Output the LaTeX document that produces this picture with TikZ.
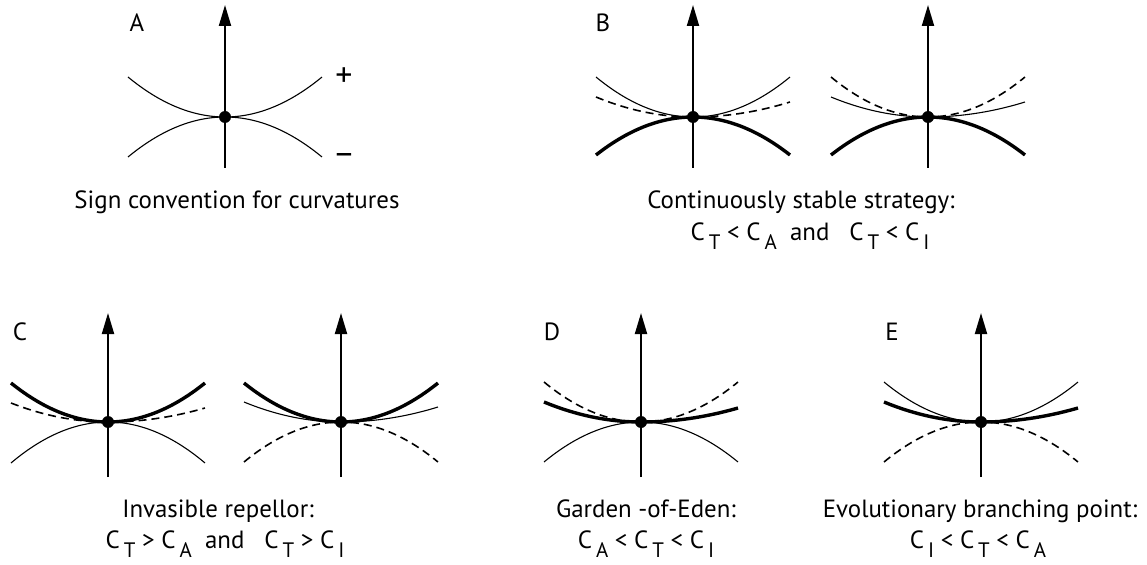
\documentclass[tikz,border=0pt]{standalone}
\usepackage{fontspec}
\setmainfont{PT Sans}
\usetikzlibrary{arrows.meta}
\newcommand\Cs[1]{C\hspace{0.16em}\raisebox{-9bp}{\fontsize{21}{21}\selectfont #1}}
\tikzset{
  thinline/.style={line width=1.1bp},
  thickline/.style={line width=3.4bp},
  dashline/.style={line width=1.6bp, dash pattern=on 8bp off 5bp},
  axisline/.style={line width=2bp, -{Triangle[width=12bp,length=21bp]}},
  dotnode/.style={circle, fill=black, inner sep=0pt, minimum size=12bp},
  txt/.style={font=\fontsize{25}{29}\selectfont, inner sep=0pt},
  signtxt/.style={font=\fontsize{34}{38}\selectfont, inner sep=0pt},
  captxt/.style={txt, anchor=base},
}
% curve: style, cx, cy, height left, height right (up positive)
\newcommand\crv[5]{%
  \draw[#1] plot[domain=-1:0,samples=30,variable=\t] ({#2+97*\t},{#3-(#4)*\t*\t})
    -- plot[domain=0:1,samples=30,variable=\t] ({#2+97*\t},{#3-(#5)*\t*\t});}
% axis: name, cx, top y, bottom y
\newcommand\ax[4]{%
  \coordinate (#1bot) at (#2,#4);
  \coordinate (#1top) at (#2,#3);
  \draw[axisline] (#1bot) -- (#1top);}
\begin{document}
\begin{tikzpicture}[x=1bp,y=-1bp]
\useasboundingbox (0,0) rectangle (1147,565);

% ---------- A ----------
\ax{A}{225}{5}{168}
\crv{thinline}{225}{117}{40}{40}
\crv{thinline}{225}{117}{-40}{-40}
\node[dotnode] (Adot) at (225,117) {};
\node[txt] (labA) at (137,23) {A};
\node[signtxt] (plus) at (344,77) {+};
\node[signtxt] (minus) at (344,159) {–};
\node[captxt] (capA) at (237,209) {Sign convention for curvatures};

% ---------- B ----------
\ax{B1}{693}{5}{168}
\crv{thinline}{693}{117}{40}{40}
\crv{dashline}{693}{117}{20}{15}
\crv{thickline}{693}{117}{-38}{-38}
\node[dotnode] (B1dot) at (693,117) {};
\ax{B2}{928}{5}{168}
\crv{dashline}{928}{117}{40}{40}
\crv{thinline}{928}{117}{20}{15}
\crv{thickline}{928}{117}{-38}{-38}
\node[dotnode] (B2dot) at (928,117) {};
\node[txt] (labB) at (603,23) {B};
\node[captxt] (capB1) at (801,209) {Continuously stable strategy:};
\node[captxt] (capB2) at (810,241) {\Cs{T} < \Cs{A}\ \ and\ \ \ \Cs{T} < \Cs{I}};

% ---------- C ----------
\ax{C1}{108}{313}{477}
\crv{thickline}{108}{422}{39}{39}
\crv{dashline}{108}{422}{19}{14}
\crv{thinline}{108}{422}{-41}{-41}
\node[dotnode] (C1dot) at (108,422) {};
\ax{C2}{341}{313}{477}
\crv{thickline}{341}{422}{39}{39}
\crv{thinline}{341}{422}{20}{15}
\crv{dashline}{341}{422}{-40}{-40}
\node[dotnode] (C2dot) at (341,422) {};
\node[txt] (labC) at (20,332) {C};
\node[captxt] (capC1) at (218,517) {Invasible repellor:};
\node[captxt] (capC2) at (225,548) {\Cs{T} > \Cs{A}\ \ and\ \ \ \Cs{T} > \Cs{I}};

% ---------- D ----------
\ax{D}{641}{313}{477}
\crv{dashline}{641}{422}{40}{40}
\crv{thickline}{641}{422}{20}{14}
\crv{thinline}{641}{422}{-40}{-40}
\node[dotnode] (Ddot) at (641,422) {};
\node[txt] (labD) at (552,332) {D};
\node[captxt] (capD1) at (646,517) {Garden -of-Eden:};
\node[captxt] (capD2) at (646,548) {\Cs{A} < \Cs{T} < \Cs{I}};

% ---------- E ----------
\ax{E}{981}{313}{477}
\crv{thinline}{981}{422}{40}{40}
\crv{thickline}{981}{422}{20}{14}
\crv{dashline}{981}{422}{-40}{-40}
\node[dotnode] (Edot) at (981,422) {};
\node[txt] (labE) at (892,332) {E};
\node[captxt] (capE1) at (980,517) {Evolutionary branching point:};
\node[captxt] (capE2) at (978,548) {\Cs{I} < \Cs{T} < \Cs{A}};
\end{tikzpicture}
\end{document}
